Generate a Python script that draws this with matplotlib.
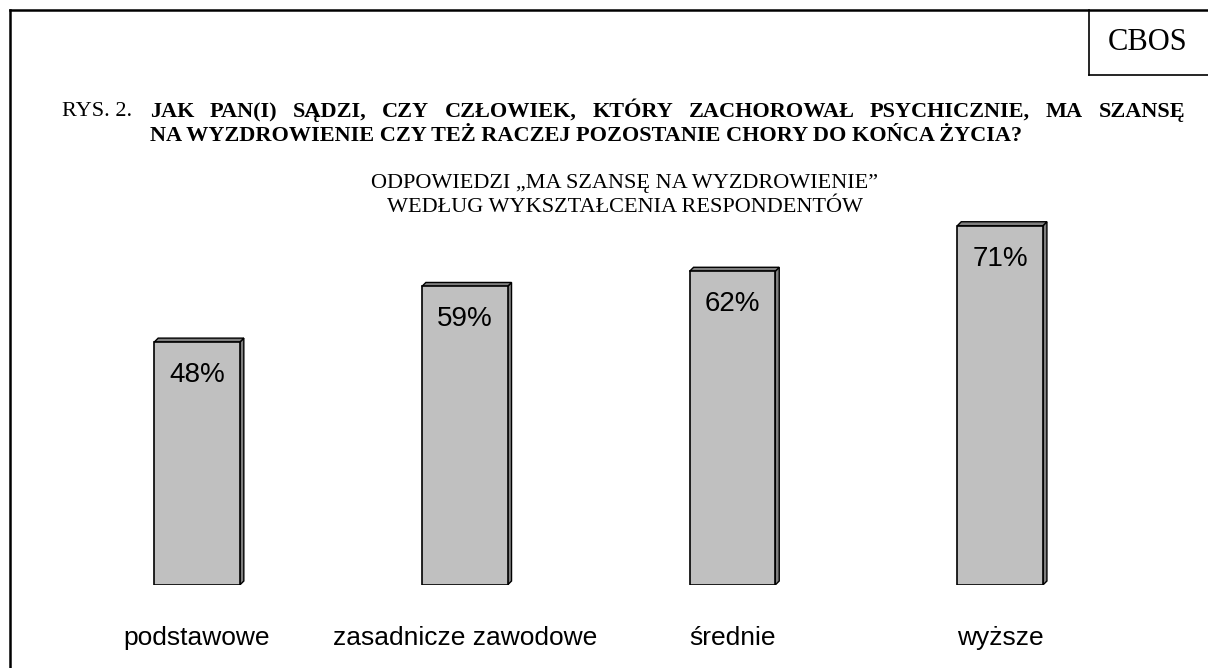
import matplotlib
matplotlib.use('Agg')
import matplotlib.pyplot as plt
from matplotlib.lines import Line2D
from matplotlib.patches import Polygon

categories = ['podstawowe', 'zasadnicze zawodowe', 'średnie', 'wyższe']
values = [48, 59, 62, 71]
value_labels = ['48%', '59%', '62%', '71%']

W, H = 1208, 668
fig = plt.figure(figsize=(W / 100, H / 100), dpi=100)
fig.patch.set_facecolor('white')

SERIF = ['Liberation Serif', 'DejaVu Serif']
SANS = ['Liberation Sans', 'DejaVu Sans']

def fx(px):
    return px / W

def fy(py):
    return 1 - py / H

def justified(line, x0, x1, y, **kw):
    # spread the words of a line so it fills x0..x1 (pixels)
    r = fig.canvas.get_renderer()
    words = line.split(' ')
    widths = []
    for w in words:
        t = fig.text(0, 0, w, **kw)
        widths.append(t.get_window_extent(r).width)
        t.remove()
    gap = (x1 - x0 - sum(widths)) / (len(words) - 1)
    x = x0
    for w, wd in zip(words, widths):
        fig.text(fx(x), fy(y), w, ha='left', va='center', **kw)
        x += wd + gap

# frame lines (top and left), plus CBOS box
fig.add_artist(Line2D([fx(10), fx(10)], [fy(10), fy(H)], color='black', lw=1.8))
fig.add_artist(Line2D([fx(10), 1], [fy(10), fy(10)], color='black', lw=1.8))
fig.add_artist(Line2D([fx(1089), fx(1089)], [fy(10), fy(75)], color='black', lw=1.2))
fig.add_artist(Line2D([fx(1089), 1], [fy(75), fy(75)], color='black', lw=1.2))
fig.text(fx(1148), fy(43), 'CBOS', family=SERIF, fontsize=22, ha='center', va='center')

# title
title_kw = dict(family=SERIF, fontsize=16, fontweight='bold')
fig.text(fx(62), fy(112), 'RYS. 2.', family=SERIF, fontsize=16, ha='left', va='center')
justified('JAK PAN(I) SĄDZI, CZY CZŁOWIEK, KTÓRY ZACHOROWAŁ PSYCHICZNIE, MA SZANSĘ',
          150, 1185, 112, **title_kw)
fig.text(fx(150), fy(136), 'NA WYZDROWIENIE CZY TEŻ RACZEJ POZOSTANIE CHORY DO KOŃCA ŻYCIA?',
         ha='left', va='center', **title_kw)
fig.text(fx(625), fy(184), 'ODPOWIEDZI \u201eMA SZANSĘ NA WYZDROWIENIE\u201d',
         family=SERIF, fontsize=16, ha='center', va='center')
fig.text(fx(625), fy(207), 'WEDŁUG WYKSZTAŁCENIA RESPONDENTÓW',
         family=SERIF, fontsize=16, ha='center', va='center')

# axes: x positions 0..3 map to bar centres, y 0..80
step = 267.7
ax_left = 197 - 0.6 * step
ax_w = 4.2 * step
ax_bottom = H - 585
ax_h = 80 * 5.06
ax = fig.add_axes([ax_left / W, ax_bottom / H, ax_w / W, ax_h / H])
ax.set_xlim(-0.6, 3.6)
ax.set_ylim(0, 80)
ax.axis('off')

width = 0.32
dx = 4 / step
dy = 4 / 5.06
for i, v in enumerate(values):
    x0, x1 = i - width / 2, i + width / 2
    # side and top faces for a slight 3D look
    ax.add_patch(Polygon([(x1, 0), (x1 + dx, dy), (x1 + dx, v + dy), (x1, v)],
                         closed=True, facecolor='#7f7f7f', edgecolor='black', lw=1.0))
    ax.add_patch(Polygon([(x0, v), (x0 + dx, v + dy), (x1 + dx, v + dy), (x1, v)],
                         closed=True, facecolor='#7f7f7f', edgecolor='black', lw=1.0))
    ax.bar(i, v, width=width, color='#c0c0c0', edgecolor='black', lw=1.2)
    ax.text(i, v - 6.5, value_labels[i], family=SANS, fontsize=20,
            ha='center', va='center')
    ax.text(i, -10.4, categories[i], family=SANS, fontsize=19,
            ha='center', va='center', clip_on=False)

fig.savefig('out.png', dpi=100, facecolor='white')
